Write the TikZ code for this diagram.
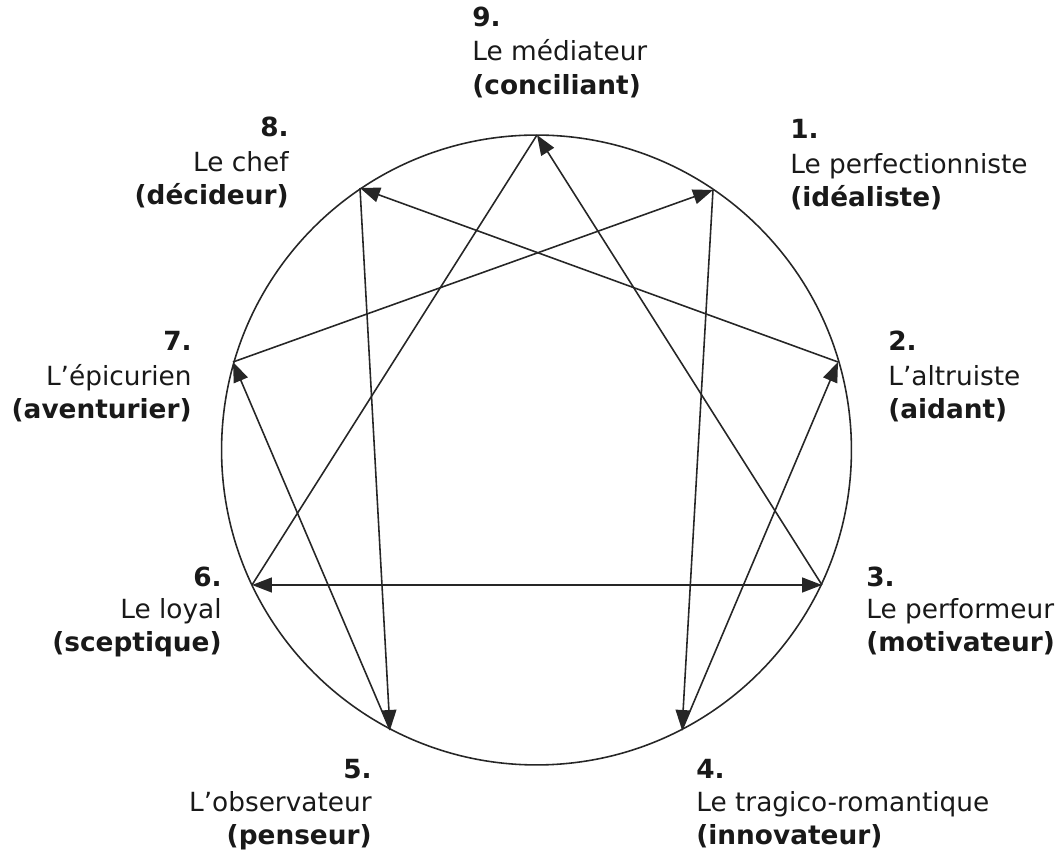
\documentclass[tikz,border=0pt]{standalone}
\usepackage{fontspec}
\setmainfont{DejaVu Sans}
\usetikzlibrary{arrows.meta}
\tikzset{
  ln/.style={line width=0.9pt, draw=black!85},
  tri/.tip={Triangle[length=0.4cm,width=0.3cm]},
  lab/.style={inner sep=0pt, text=black!90, font=\fontsize{15}{19}\selectfont},
  labb/.style={lab, font=\fontsize{15}{19}\selectfont\bfseries},
  lw/.style={anchor=base west},
  le/.style={anchor=base east}
}
\begin{document}
\begin{tikzpicture}[x=0.02cm,y=-0.02cm]
\useasboundingbox (0,0) rectangle (1063,854);
\coordinate (C) at (536.5,450);
\coordinate (P9) at (537,135);
\coordinate (P1) at (713,190);
\coordinate (P2) at (838,362);
\coordinate (P3) at (822,585);
\coordinate (P4) at (682,730);
\coordinate (P5) at (390,730);
\coordinate (P6) at (252,585);
\coordinate (P7) at (233,362);
\coordinate (P8) at (360,188);
\draw[ln] (C) circle[radius=6.3cm];
% hexad
\draw[ln,-tri] (P1) -- (P4);
\draw[ln,-tri] (P4) -- (P2);
\draw[ln,-tri] (P2) -- (P8);
\draw[ln,-tri] (P8) -- (P5);
\draw[ln,-tri] (P5) -- (P7);
\draw[ln,-tri] (P7) -- (P1);
% triangle
\draw[ln,-tri] (P3) -- (P9);
\draw[ln] (P9) -- (P6);
\draw[ln,tri-tri] (P6) -- (P3);
% labels
\node[labb,lw] (t9a) at (472,27) {9.};
\node[lab,lw] (t9b) at (472,61) {Le médiateur};
\node[labb,lw] (t9c) at (472,95) {(conciliant)};
\node[labb,le] (t8a) at (289,137) {8.};
\node[lab,le] (t8b) at (289,172) {Le chef};
\node[labb,le] (t8c) at (289,205) {(décideur)};
\node[labb,lw] (t1a) at (790,139) {1.};
\node[lab,lw] (t1b) at (790,174) {Le perfectionniste};
\node[labb,lw] (t1c) at (790,207) {(idéaliste)};
\node[labb,le] (t7a) at (192,351) {7.};
\node[lab,le] (t7b) at (192,386) {L'épicurien};
\node[labb,le] (t7c) at (192,419) {(aventurier)};
\node[labb,lw] (t2a) at (888,351) {2.};
\node[lab,lw] (t2b) at (888,386) {L'altruiste};
\node[labb,lw] (t2c) at (888,419) {(aidant)};
\node[labb,le] (t6a) at (222,587) {6.};
\node[lab,le] (t6b) at (222,619) {Le loyal};
\node[labb,le] (t6c) at (222,652) {(sceptique)};
\node[labb,lw] (t3a) at (866,587) {3.};
\node[lab,lw] (t3b) at (866,619) {Le performeur};
\node[labb,lw] (t3c) at (866,652) {(motivateur)};
\node[labb,le] (t5a) at (372,779) {5.};
\node[lab,le] (t5b) at (372,812) {L'observateur};
\node[labb,le] (t5c) at (372,845) {(penseur)};
\node[labb,lw] (t4a) at (696,779) {4.};
\node[lab,lw] (t4b) at (696,812) {Le tragico-romantique};
\node[labb,lw] (t4c) at (696,845) {(innovateur)};
\end{tikzpicture}
\end{document}
